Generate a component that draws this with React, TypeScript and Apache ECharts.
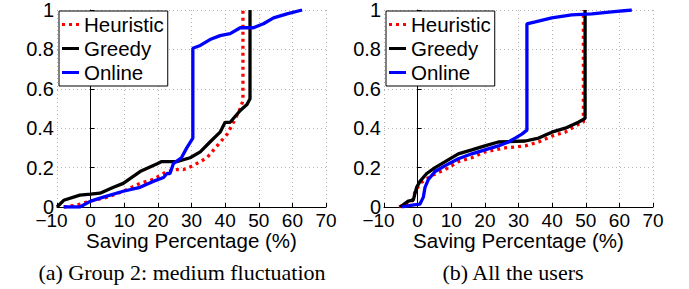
import React, { useEffect, useRef } from "react";
import * as echarts from "echarts";

const seriesNames = ["Heuristic", "Greedy", "Online"];
const xTicks = [-10, 0, 10, 20, 30, 40, 50, 60, 70];
const yTicks = [0, 0.2, 0.4, 0.6, 0.8, 1];
const captions = ["(a) Group 2: medium fluctuation", "(b) All the users"];
const axisTitle = "Saving Percentage (%)";

// Panel (a): Group 2, medium fluctuation
const heuristicA: [number, number][] = [
  [-8, 0], [-4, 0.01], [0, 0.03], [5, 0.05], [9.7, 0.08], [14.7, 0.12], [18.6, 0.14],
  [22.7, 0.18], [25.6, 0.19], [27.6, 0.19], [30.5, 0.21], [34.6, 0.25], [37.6, 0.31],
  [40.6, 0.37], [42.5, 0.43], [44.5, 0.5], [45.3, 0.54], [45.3, 1],
];
const greedyA: [number, number][] = [
  [-10, 0], [-8, 0.034], [-3.2, 0.06], [0, 0.065], [2.8, 0.07], [6.8, 0.1], [9.7, 0.12],
  [14.7, 0.18], [19.8, 0.22], [21, 0.23], [25.6, 0.23], [29.6, 0.25], [32.6, 0.28],
  [35.5, 0.33], [38.5, 0.38], [40, 0.43], [41.5, 0.43], [44.5, 0.49], [46.5, 0.52],
  [47.4, 0.55], [47.4, 1],
];
const onlineA: [number, number][] = [
  [-8, 0], [-3.2, 0], [0, 0.03], [3.8, 0.05], [9.7, 0.08], [14.7, 0.1], [18.6, 0.13],
  [21.7, 0.15], [22.7, 0.17], [23.6, 0.17], [24.6, 0.22], [27, 0.25], [28.6, 0.3],
  [30.4, 0.35], [30.4, 0.806], [32.6, 0.82], [35.5, 0.85], [38.5, 0.87], [41.5, 0.88],
  [44.5, 0.91], [48.4, 0.91], [51.4, 0.93], [54.4, 0.96], [58.4, 0.98], [62.9, 1],
];

// Panel (b): All the users
const heuristicB: [number, number][] = [
  [-5.5, 0], [-1.6, 0.03], [-0.8, 0.075], [0.7, 0.12], [4.2, 0.16], [8.2, 0.19],
  [12.1, 0.23], [16.1, 0.25], [20, 0.28], [26, 0.3], [32, 0.31], [36, 0.33],
  [39.9, 0.36], [43.9, 0.38], [47.8, 0.42], [49.3, 0.43], [49.3, 1],
];
const greedyB: [number, number][] = [
  [-5.2, 0], [-2.8, 0.03], [-1.3, 0.035], [-0.3, 0.1], [0.7, 0.13], [2.7, 0.17],
  [5.2, 0.2], [8.2, 0.23], [12.1, 0.27], [16.1, 0.29], [20, 0.31], [24, 0.33],
  [32, 0.335], [36, 0.35], [39.9, 0.38], [43.9, 0.4], [47.8, 0.43], [49.8, 0.45],
  [49.8, 1],
];
const onlineB: [number, number][] = [
  [-4.7, 0], [-1.6, 0.01], [0.7, 0.015], [1.7, 0.05], [2.2, 0.1], [3.2, 0.14],
  [5.2, 0.18], [8.2, 0.21], [12.1, 0.245], [16.1, 0.27], [20, 0.29], [24, 0.31],
  [27, 0.33], [29, 0.35], [31, 0.37], [32.5, 0.39], [32.5, 0.93], [35, 0.94],
  [39.9, 0.96], [45.8, 0.975], [51.8, 0.98], [57.7, 0.99], [63.7, 1],
];

const panels = [
  [heuristicA, greedyA, onlineA],
  [heuristicB, greedyB, onlineB],
];

const SANS = "'Liberation Sans', Arial, Helvetica, sans-serif";
const SERIF = "'Liberation Serif', 'Times New Roman', serif";

export default function App() {
  const ref = useRef<HTMLDivElement>(null);

  useEffect(() => {
    if (!ref.current) return;
    const chart = echarts.init(ref.current, undefined, { renderer: "svg" });
    const gridLefts = [57, 384];
    const legendLefts = [59, 386];
    const captionX = [182, 513];
    const styles = [
      { color: "#ff0000", type: [3, 4] as number[] },
      { color: "#000000", type: "solid" },
      { color: "#0000ff", type: "solid" },
    ];
    const icons = [
      "path://M0,0h3v3h-3z M7,0h3v3h-3z M14,0h3v3h-3z",
      "path://M0,0h17v3h-17z",
      "path://M0,0h17v3h-17z",
    ];

    const grid = gridLefts.map((l) => ({ left: l, top: 8, width: 269, height: 199 }));
    const xAxis = gridLefts.map((_, i) => ({
      type: "value",
      gridIndex: i,
      min: xTicks[0],
      max: xTicks[xTicks.length - 1],
      interval: xTicks[1] - xTicks[0],
      name: axisTitle,
      nameLocation: "middle",
      nameGap: 23,
      nameMoveOverlap: false,
      nameTextStyle: { fontSize: 20.5, color: "#000", fontFamily: SANS, lineHeight: 20 },
      axisLine: { show: true, lineStyle: { color: "#000", width: 1 } },
      axisTick: { show: true, inside: true, length: 4, lineStyle: { color: "#000" } },
      axisLabel: {
        fontSize: 19,
        lineHeight: 14,
        color: "#000",
        fontFamily: SANS,
        margin: 6,
        formatter: (v: number) => (v < 0 ? "{n|\u2212" + Math.abs(v) + "}" : String(v)),
        rich: {
          n: { fontSize: 19, lineHeight: 14, color: "#000", fontFamily: SANS, padding: [0, 11, 0, 0] },
        },
      },
      splitLine: { show: true, lineStyle: { color: "#b4b4b4", type: [1, 3], width: 1 } },
    }));
    const yAxis = gridLefts.map((_, i) => ({
      type: "value",
      gridIndex: i,
      min: yTicks[0],
      max: yTicks[yTicks.length - 1],
      interval: 0.2,
      axisLine: { show: true, lineStyle: { color: "#000", width: 1 } },
      axisTick: { show: true, inside: true, length: 4, lineStyle: { color: "#000" } },
      axisLabel: {
        fontSize: 20,
        lineHeight: 14,
        color: "#000",
        fontFamily: SANS,
        margin: 3,
        formatter: (v: number) => String(parseFloat(v.toFixed(1))),
      },
      splitLine: { show: true, lineStyle: { color: "#b4b4b4", type: [1, 3], width: 1 } },
    }));

    const series: any[] = [];
    panels.forEach((panel, pi) => {
      panel.forEach((data, si) => {
        series.push({
          type: "line",
          name: seriesNames[si],
          xAxisIndex: pi,
          yAxisIndex: pi,
          data,
          symbol: "none",
          showSymbol: false,
          lineStyle: { color: styles[si].color, width: 3.3, type: styles[si].type, cap: "butt" },
          itemStyle: { color: styles[si].color },
          z: 2 + si,
        });
      });
    });

    const legend = legendLefts.map((l) => ({
      data: seriesNames.map((n, i) => ({ name: n, icon: icons[i] })),
      left: l,
      top: 11,
      orient: "vertical",
      itemWidth: 17,
      itemHeight: 3,
      itemGap: 3,
      padding: [3, 4, 3, 3],
      borderColor: "#000",
      borderWidth: 1,
      borderRadius: 0,
      backgroundColor: "#fff",
      selectedMode: false,
      textStyle: { fontSize: 20.5, color: "#000", fontFamily: SANS, lineHeight: 21 },
    }));

    const graphic = captions.map((c, i) => ({
      type: "text",
      x: captionX[i],
      y: 272,
      style: {
        text: c,
        fontSize: 22,
        fontFamily: SERIF,
        fill: "#000",
        textAlign: "center",
        textVerticalAlign: "middle",
      },
    }));

    chart.setOption({
      animation: false,
      backgroundColor: "#fff",
      grid,
      xAxis,
      yAxis,
      series,
      legend,
      graphic,
    } as any);

    return () => chart.dispose();
  }, []);

  return (
    <div
      ref={ref}
      style={{ position: "fixed", left: 0, top: 0, width: 689, height: 289, background: "#fff" }}
    />
  );
}
